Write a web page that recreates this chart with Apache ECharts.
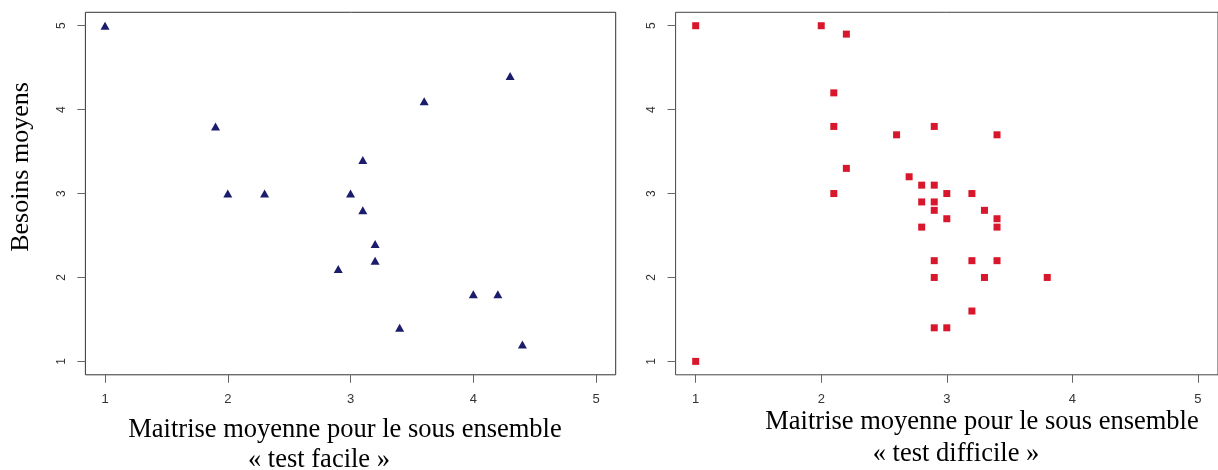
<!DOCTYPE html>
<html>
<head>
<meta charset="utf-8">
<script src="https://cdn.jsdelivr.net/npm/echarts@6/dist/echarts.min.js"></script>
<style>html,body{margin:0;padding:0;background:#fff;}#c{width:1218px;height:470px;}</style>
</head>
<body>
<div id="c"></div>
<script>
// Tick values
const xTicks = [1, 2, 3, 4, 5];
const yTicks = [1, 2, 3, 4, 5];
// « test facile »
const easyX = [1.0, 1.9, 2.0, 2.3, 3.0, 3.1, 3.1, 3.2, 3.2, 2.9, 3.4, 3.6, 4.0, 4.2, 4.3, 4.4];
const easyY = [5.0, 3.8, 3.0, 3.0, 3.0, 3.4, 2.8, 2.4, 2.2, 2.1, 1.4, 4.1, 1.8, 1.8, 4.4, 1.2];
// « test difficile »
const hardX = [1.0, 2.0, 2.2, 2.1, 2.1, 2.6, 2.9, 3.4, 2.2, 2.7, 2.8, 2.9, 2.1, 3.0, 3.2, 2.8, 2.9, 2.9, 3.3, 3.0, 3.4, 2.8, 3.4, 2.9, 3.2, 3.4, 2.9, 3.3, 3.8, 3.2, 2.9, 3.0, 1.0];
const hardY = [5.0, 5.0, 4.9, 4.2, 3.8, 3.7, 3.8, 3.7, 3.3, 3.2, 3.1, 3.1, 3.0, 3.0, 3.0, 2.9, 2.9, 2.8, 2.8, 2.7, 2.7, 2.6, 2.6, 2.2, 2.2, 2.2, 2.0, 2.0, 2.0, 1.6, 1.4, 1.4, 1.0];
const xTitle = 'Maitrise moyenne pour le sous ensemble';
const easyLabel = '« test facile »';
const hardLabel = '« test difficile »';
const yTitle = 'Besoins moyens';

const zip = (a, b) => a.map((v, i) => [v, b[i]]);
const chart = echarts.init(document.getElementById('c'), null, {renderer: 'canvas'});

function xAx(gi) {
  return {
    gridIndex: gi, type: 'value', min: 0.84, max: 5.16,
    axisLine: {show: false},
    splitLine: {show: false},
    axisTick: {show: true, inside: false, length: 8, lineStyle: {color: '#666', width: 1}, customValues: xTicks},
    axisLabel: {show: true, margin: 18, color: '#333', fontSize: 13, fontFamily: 'Liberation Sans, Arial, sans-serif', customValues: xTicks, formatter: v => String(v)}
  };
}
function yAx(gi) {
  return {
    gridIndex: gi, type: 'value', min: 0.84, max: 5.16,
    axisLine: {show: false},
    splitLine: {show: false},
    axisTick: {show: true, inside: false, length: 8, lineStyle: {color: '#666', width: 1}, customValues: yTicks},
    axisLabel: {show: true, margin: 18, rotate: 90, color: '#333', fontSize: 12, fontFamily: 'Liberation Sans, Arial, sans-serif', customValues: yTicks, formatter: v => String(v)}
  };
}

const serif = 'Liberation Serif, Times New Roman, serif';
chart.setOption({
  animation: false,
  backgroundColor: '#fff',
  grid: [
    {left: 85.4, top: 12.3, width: 530.3, height: 362.5, show: true, borderColor: '#333', borderWidth: 1, backgroundColor: 'transparent'},
    {left: 675.6, top: 12.3, width: 543.5, height: 362.5, show: true, borderColor: '#444', borderWidth: 1, backgroundColor: 'transparent'}
  ],
  xAxis: [xAx(0), xAx(1)],
  yAxis: [yAx(0), yAx(1)],
  series: [
    {type: 'scatter', xAxisIndex: 0, yAxisIndex: 0, symbol: 'triangle', symbolSize: [9, 8],
     itemStyle: {color: '#1c1c6c', opacity: 1}, data: zip(easyX, easyY)},
    {type: 'scatter', xAxisIndex: 1, yAxisIndex: 1, symbol: 'rect', symbolSize: 7,
     itemStyle: {color: '#d8172c', opacity: 1}, data: zip(hardX, hardY)}
  ],
  graphic: [
    {type: 'text', x: 21, y: 167, rotation: Math.PI / 2,
     style: {text: yTitle, font: '26px ' + serif, fill: '#000', textAlign: 'center', textVerticalAlign: 'middle'}},
    {type: 'text', x: 345, y: 430,
     style: {text: xTitle, font: '26.5px ' + serif, fill: '#000', textAlign: 'center', textVerticalAlign: 'middle'}},
    {type: 'text', x: 319, y: 460,
     style: {text: easyLabel, font: '26.5px ' + serif, fill: '#000', textAlign: 'center', textVerticalAlign: 'middle'}},
    {type: 'text', x: 982, y: 422,
     style: {text: xTitle, font: '26.5px ' + serif, fill: '#000', textAlign: 'center', textVerticalAlign: 'middle'}},
    {type: 'text', x: 956, y: 454,
     style: {text: hardLabel, font: '26.5px ' + serif, fill: '#000', textAlign: 'center', textVerticalAlign: 'middle'}}
  ]
});
</script>
</body>
</html>
